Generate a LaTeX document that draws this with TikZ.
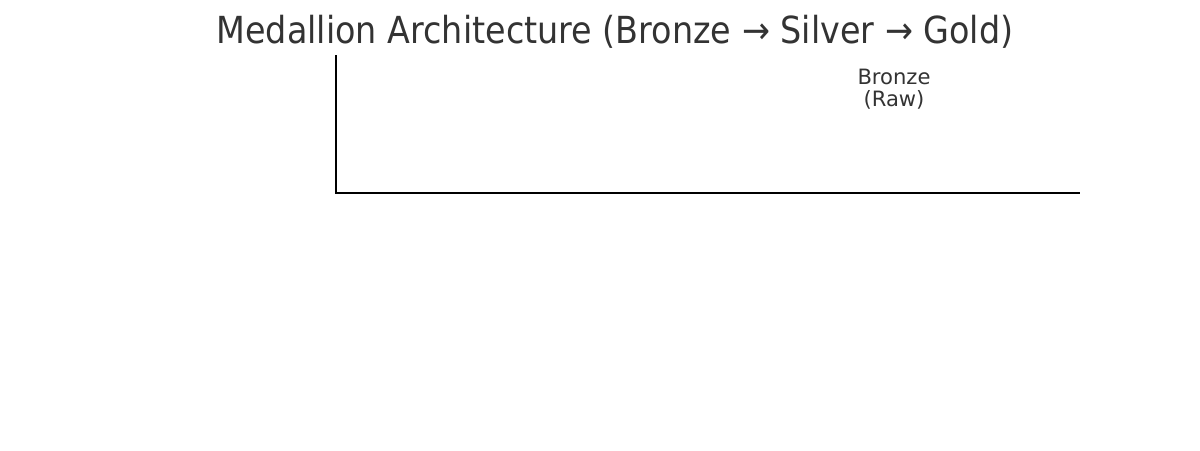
\documentclass[tikz,border=0pt]{standalone}
\usepackage{graphicx}
\usepackage{fontspec}
\setmainfont{DejaVu Sans}
\definecolor{mdtext}{RGB}{51,51,51}

\begin{document}
\begin{tikzpicture}[x=0.01cm,y=-0.01cm,line width=0.6pt]
  \useasboundingbox (0,0) rectangle (1200,450);
  \coordinate (T) at (336,55);
  \coordinate (O) at (336,193);
  \coordinate (R) at (1080,193);
  \draw (T) -- (O) -- (R);
  \node[mdtext,font=\fontsize{10.6}{12}\selectfont] (title) at (615,32)
    {\scalebox{0.896}[1]{Medallion Architecture (Bronze → Silver → Gold)}};
  \node[mdtext,align=center,font=\fontsize{6}{6.3}\selectfont] (bronze) at (894,89)
    {Bronze\\(Raw)};
\end{tikzpicture}
\end{document}
